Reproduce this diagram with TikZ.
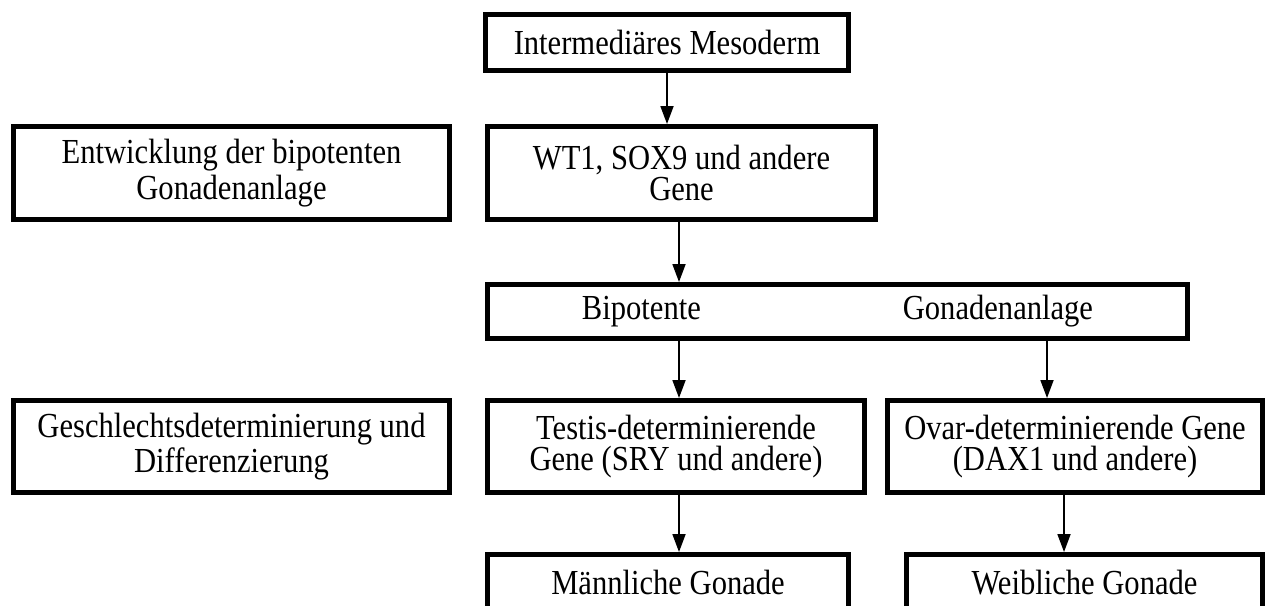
\documentclass[tikz,border=0pt]{standalone}
\usepackage{fontspec}
\setmainfont{Liberation Serif}[FakeStretch=0.87]
\usetikzlibrary{arrows.meta}

\begin{document}
\begin{tikzpicture}[
  box/.style={draw, line width=1.42pt, inner sep=0pt, align=center,
    font=\fontsize{10}{8.7}\selectfont},
  arr/.style={line width=0.5pt, -{Triangle[length=0.18cm, width=0.13cm]}}]
\useasboundingbox (0,0) rectangle (12.71,-6.05);
\clip (0,0) rectangle (12.71,-6.05);
\node[box, minimum width=3.63cm, minimum height=0.56cm] (meso) at (6.67,-0.425) {Intermediäres Mesoderm};
\node[box, minimum width=4.36cm, minimum height=0.93cm] (phase1) at (2.315,-1.73) {Entwicklung der bipotenten\\Gonadenanlage};
\node[box, minimum width=3.88cm, minimum height=0.93cm] (wt1) at (6.815,-1.73) {WT1, SOX9 und andere\\Gene};
\node[box, minimum width=7.00cm, minimum height=0.54cm] (bip) at (8.375,-3.115) {Bipotente\hspace{2.02cm}Gonadenanlage};
\node[box, minimum width=4.36cm, minimum height=0.92cm] (phase2) at (2.315,-4.465) {Geschlechtsdeterminierung und\\Differenzierung};
\node[box, minimum width=3.77cm, minimum height=0.92cm] (testis) at (6.76,-4.465) {Testis-determinierende\\Gene (SRY und andere)};
\node[box, minimum width=3.75cm, minimum height=0.92cm] (ovar) at (10.75,-4.465) {Ovar-determinierende Gene\\(DAX1 und andere)};
\node[box, minimum width=3.61cm, minimum height=0.56cm] (male) at (6.68,-5.825) {Männliche Gonade};
\node[box, minimum width=3.56cm, minimum height=0.56cm] (female) at (10.845,-5.825) {Weibliche Gonade};
\coordinate (colA) at (6.79,0);
\coordinate (colB) at (10.47,0);
\coordinate (colC) at (10.64,0);
\draw[arr] (meso.south) -- (meso.south |- wt1.north);
\draw[arr] (wt1.south -| colA) -- (bip.north -| colA);
\draw[arr] (bip.south -| colA) -- (testis.north -| colA);
\draw[arr] (bip.south -| colB) -- (ovar.north -| colB);
\draw[arr] (testis.south -| colA) -- (male.north -| colA);
\draw[arr] (ovar.south -| colC) -- (female.north -| colC);
\end{tikzpicture}
\end{document}
